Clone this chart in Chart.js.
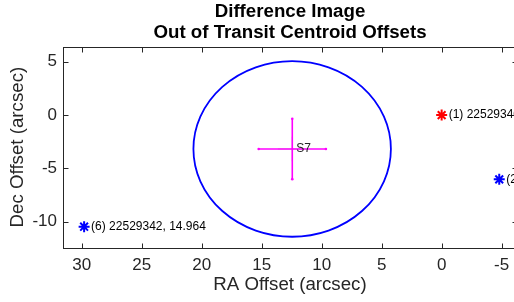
<!DOCTYPE html>
<html>
<head>
<meta charset="utf-8">
<script src="https://cdn.jsdelivr.net/npm/chart.js@4.4.0/dist/chart.umd.min.js"></script>
<style>
  html, body { margin: 0; padding: 0; background: #fff; overflow: hidden; }
  #wrap { width: 580px; height: 302px; }
</style>
</head>
<body>
<div id="wrap"><canvas id="centroidChart" width="580" height="302"></canvas></div>
<script>
// catalog stars (RA / Dec offsets in arcsec)
const starRA = [0, -4.8, 29.8];
const starDec = [0, -6.03, -10.47];
const starNames = ['(1) 225293406, 13.262', '(2) 225293410, 15.537', '(6) 22529342, 14.964'];
const starColors = ['#ff0000', '#0000ff', '#0000ff'];

// out of transit centroid with 1-sigma error bars
const centroidRA = [12.45];
const centroidDec = [-3.18];
const centroidRAErr = [2.8];
const centroidDecErr = [2.83];
const centroidNames = ['S7'];

// small grey error cross drawn on top
const greyRAErr = [1.2];
const greyDecErr = [1.15];

// exclusion circle
const circleRA = [12.46];
const circleDec = [-3.18];
const circleRadius = [8.23];

const xTicks = [30, 25, 20, 15, 10, 5, 0, -5];
const yTicks = [5, 0, -5, -10];

const fontFam = "'Liberation Sans', Arial, Helvetica, sans-serif";
const axisColor = '#262626';

var ctx = document.getElementById('centroidChart').getContext('2d');

const datasets = [];
for (let i = 0; i < starRA.length; i++) {
    datasets.push({
        data: [{x: starRA[i], y: starDec[i]}],
        pointStyle: 'star',
        pointRadius: 5.5,
        borderColor: starColors[i],
        backgroundColor: starColors[i],
        pointBorderWidth: 2,
        showLine: false
    });
}
for (let i = 0; i < centroidRA.length; i++) {
    datasets.push({
        data: [{x: centroidRA[i] - centroidRAErr[i], y: centroidDec[i]}, {x: centroidRA[i] + centroidRAErr[i], y: centroidDec[i]}],
        showLine: true,
        borderColor: '#ff00ff',
        backgroundColor: '#ff00ff',
        borderWidth: 1.6,
        pointRadius: 1.3,
        pointBorderWidth: 0
    });
    datasets.push({
        data: [{x: centroidRA[i], y: centroidDec[i] - centroidDecErr[i]}, {x: centroidRA[i], y: centroidDec[i] + centroidDecErr[i]}],
        showLine: true,
        borderColor: '#ff00ff',
        backgroundColor: '#ff00ff',
        borderWidth: 1.6,
        pointRadius: 1.3,
        pointBorderWidth: 0
    });
    datasets.push({
        data: [{x: centroidRA[i] - greyRAErr[i], y: centroidDec[i]}, {x: centroidRA[i] + greyRAErr[i], y: centroidDec[i]}],
        showLine: true,
        borderColor: 'rgba(128,128,128,0.55)',
        borderWidth: 1,
        pointRadius: 0
    });
    datasets.push({
        data: [{x: centroidRA[i], y: centroidDec[i] - greyDecErr[i]}, {x: centroidRA[i], y: centroidDec[i] + greyDecErr[i]}],
        showLine: true,
        borderColor: 'rgba(128,128,128,0.55)',
        borderWidth: 1,
        pointRadius: 0
    });
}

// circle, labels, box and inward ticks
const overlay = {
    id: 'overlay',
    beforeDatasetsDraw(chart) {
        const c = chart.ctx, xs = chart.scales.x, ys = chart.scales.y, a = chart.chartArea;
        c.save();
        c.beginPath();
        c.rect(a.left, a.top, a.right - a.left, a.bottom - a.top);
        c.clip();
        c.strokeStyle = '#0000ff';
        c.lineWidth = 1.8;
        for (let i = 0; i < circleRA.length; i++) {
            const cx = xs.getPixelForValue(circleRA[i]);
            const cy = ys.getPixelForValue(circleDec[i]);
            const rx = Math.abs(xs.getPixelForValue(circleRA[i] + circleRadius[i]) - cx);
            const ry = Math.abs(ys.getPixelForValue(circleDec[i] + circleRadius[i]) - cy);
            c.beginPath();
            c.ellipse(cx, cy, rx, ry, 0, 0, Math.PI * 2);
            c.stroke();
        }
        c.restore();
    },
    afterDatasetsDraw(chart) {
        const c = chart.ctx, xs = chart.scales.x, ys = chart.scales.y, a = chart.chartArea;
        c.save();
        c.font = '12px ' + fontFam;
        c.fillStyle = '#000';
        c.textBaseline = 'middle';
        c.textAlign = 'left';
        for (let i = 0; i < starRA.length; i++) {
            c.fillText(starNames[i], xs.getPixelForValue(starRA[i]) + 7, ys.getPixelForValue(starDec[i]));
        }
        c.fillStyle = '#262626';
        for (let i = 0; i < centroidRA.length; i++) {
            c.fillText(centroidNames[i], xs.getPixelForValue(centroidRA[i]) + 4, ys.getPixelForValue(centroidDec[i]));
        }
        c.restore();

        c.save();
        c.strokeStyle = axisColor;
        c.lineWidth = 1;
        const L = Math.round(a.left) + 0.5, R = Math.round(a.right) + 0.5;
        const T = Math.round(a.top) + 0.5, B = Math.round(a.bottom) + 0.5;
        c.strokeRect(L, T, R - L, B - T);
        c.beginPath();
        xs.ticks.forEach(t => {
            const px = Math.round(xs.getPixelForValue(t.value)) + 0.5;
            c.moveTo(px, B); c.lineTo(px, B - 5);
            c.moveTo(px, T); c.lineTo(px, T + 5);
        });
        ys.ticks.forEach(t => {
            const py = Math.round(ys.getPixelForValue(t.value)) + 0.5;
            c.moveTo(L, py); c.lineTo(L + 5, py);
            c.moveTo(R, py); c.lineTo(R - 5, py);
        });
        c.stroke();
        c.restore();
    }
};

new Chart(ctx, {
    type: 'scatter',
    data: { datasets: datasets },
    plugins: [overlay],
    options: {
        responsive: false,
        animation: false,
        layout: { padding: { left: 0, right: 63, top: 0, bottom: 0 } },
        scales: {
            x: {
                type: 'linear',
                reverse: true,
                min: -6.28,
                max: 31.56,
                grid: { display: false, drawTicks: false },
                border: { display: false },
                afterBuildTicks(scale) { scale.ticks = xTicks.map(v => ({value: v})); },
                afterFit(scale) { scale.height = 54.5; },
                ticks: {
                    padding: 8,
                    color: axisColor,
                    font: { family: fontFam, size: 17 },
                    maxRotation: 0
                },
                title: {
                    display: true,
                    text: 'RA Offset (arcsec)',
                    color: axisColor,
                    font: { family: fontFam, size: 18.7 },
                    padding: { top: 0, bottom: 5.5 }
                }
            },
            y: {
                type: 'linear',
                min: -12.42,
                max: 6.41,
                grid: { display: false, drawTicks: false },
                border: { display: false },
                afterBuildTicks(scale) { scale.ticks = yTicks.map(v => ({value: v})); },
                afterFit(scale) { scale.width = 63; },
                ticks: {
                    padding: 6,
                    color: axisColor,
                    font: { family: fontFam, size: 17 }
                },
                title: {
                    display: true,
                    text: 'Dec Offset (arcsec)',
                    color: axisColor,
                    font: { family: fontFam, size: 18.7 },
                    padding: { top: 6.5, bottom: 0 }
                }
            }
        },
        plugins: {
            legend: { display: false },
            tooltip: { enabled: false },
            title: {
                display: true,
                fullSize: false,
                text: ['Difference Image', 'Out of Transit Centroid Offsets'],
                color: '#000',
                font: { family: fontFam, size: 18.7, weight: 'bold', lineHeight: 1.15 },
                padding: { top: 0.75, bottom: 2.95 }
            }
        }
    }
});
</script>
</body>
</html>
